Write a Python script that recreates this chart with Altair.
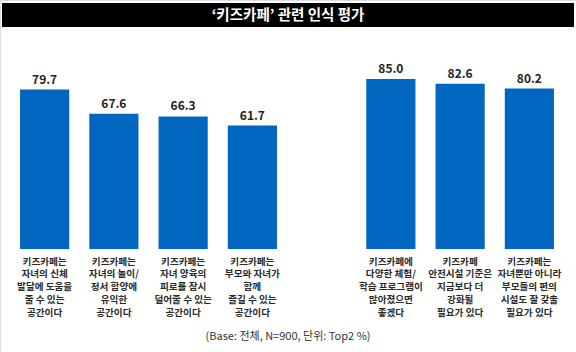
import altair as alt
import pandas as pd

slots = [0, 1, 2, 3, 5, 6, 7]
values = [79.7, 67.6, 66.3, 61.7, 85.0, 82.6, 80.2]
labels = [
    "키즈카페는\n자녀의 신체\n발달에 도움을\n줄 수 있는\n공간이다",
    "키즈카페는\n자녀의 놀이/\n정서 함양에\n유익한\n공간이다",
    "키즈카페는\n자녀 양육의\n피로를 잠시\n덜어줄 수 있는\n공간이다",
    "키즈카페는\n부모와 자녀가\n함께\n즐길 수 있는\n공간이다",
    "키즈카페에\n다양한 체험/\n학습 프로그램이\n많아졌으면\n좋겠다",
    "키즈카페\n안전시설 기준은\n지금보다 더\n강화될\n필요가 있다",
    "키즈카페는\n자녀뿐만 아니라\n부모들의 편의\n시설도 잘 갖출\n필요가 있다",
]
title_text = "‘키즈카페’ 관련 인식 평가"
footnote = "(Base: 전체, N=900, 단위: Top2 %)"

df = pd.DataFrame({"slot": slots, "value": values, "label": labels})
df["vlabel"] = [f"{v:.1f}" for v in values]

FONT = "Noto Sans CJK KR"
xs = alt.Scale(domain=list(range(8)), range=[10, 564], paddingInner=0.29, paddingOuter=0.145)
ys = alt.Scale(domain=[0, 100], range=[249, 49])
X = alt.X("slot:O", scale=xs, axis=None)

base = alt.Chart(df)
bars = base.mark_bar(color="#0066C0").encode(x=X, y=alt.Y("value:Q", scale=ys, axis=None))
vals = base.mark_text(font=FONT, fontSize=12, fontWeight="bold", color="#222222",
                      baseline="alphabetic", dy=-6).encode(
    x=X, y=alt.Y("value:Q", scale=ys), text="vlabel:N")
cats = base.mark_text(font=FONT, fontSize=9.6, fontWeight="bold", color="#2a2a2a",
                      baseline="alphabetic", lineBreak="\n", lineHeight=12.75).encode(
    x=X, y=alt.value(264.6), text="label:N")

tdf = pd.DataFrame({"t": [title_text], "f": [footnote]})
tb = alt.Chart(tdf)
title_bg = tb.mark_rect(color="#000000").encode(
    x=alt.value(2), x2=alt.value(574), y=alt.value(3), y2=alt.value(27))
title = tb.mark_text(font=FONT, fontSize=14.5, fontWeight="bold", color="white",
                     baseline="middle", align="center").encode(
    x=alt.value(288), y=alt.value(15.5), text="t:N")
foot = tb.mark_text(font=FONT, fontSize=11, color="#333333",
                    baseline="middle", align="center").encode(
    x=alt.value(288), y=alt.value(336.5), text="f:N")

chart = alt.layer(title_bg, title, bars, vals, cats, foot).properties(
    width=576, height=352, padding=0, autosize=alt.AutoSizeParams(type="none")
).configure_view(stroke=None).configure(background="white")

chart.save("out.html", embed_options={"renderer": "svg", "actions": False})
